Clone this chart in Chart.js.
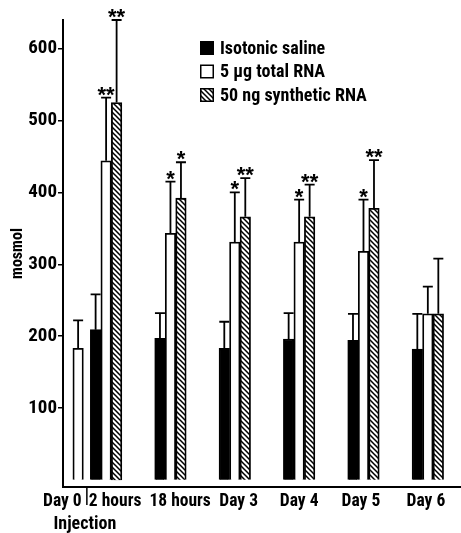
<!DOCTYPE html>
<html>
<head>
<meta charset="utf-8">
<script src="https://cdn.jsdelivr.net/npm/chart.js@4.4.1/dist/chart.umd.min.js"></script>
<style>
  html, body { margin: 0; padding: 0; background: #fff; }
  #wrap { width: 461px; height: 533px; }
</style>
</head>
<body>
<div id="wrap"><canvas id="osmoChart"></canvas></div>
<script>
/* osmolality after injection */

var timepoints = ['Day 0', '2 hours', '18 hours', 'Day 3', 'Day 4', 'Day 5', 'Day 6'];
var slots = [0.565, 1, 2, 3, 4, 5, 6];
var labelAt = [0.32, 1.14, 2.15, 3.06, 4, 4.96, 5.97];

var saline = [null, 209, 197, 183, 196, 194, 182];
var salineErr = [null, 49, 35, 37, 36, 37, 49];
var totalRna = [183, 444, 343, 331, 331, 318, 231];
var totalRnaErr = [39, 88, 72, 69, 59, 72, 38];
var synthRna = [null, 525, 392, 366, 366, 378, 231];
var synthRnaErr = [null, 115, 50, 54, 45, 67, 77];
var totalRnaStars = ['', '**', '*', '*', '*', '*', ''];
var synthRnaStars = ['', '**', '*', '**', '**', '**', ''];
var yTicks = [100, 200, 300, 400, 500, 600];

var COND = "'Roboto Condensed', 'Liberation Sans', sans-serif";

var ctx = document.getElementById('osmoChart');

function hatch() {
  var c = document.createElement('canvas');
  c.width = 5;
  c.height = 5;
  var g = c.getContext('2d');
  g.fillStyle = '#fff';
  g.fillRect(0, 0, 5, 5);
  g.strokeStyle = '#000';
  g.lineWidth = 1.5;
  g.beginPath();
  g.moveTo(-1, -1); g.lineTo(6, 6);
  g.moveTo(-1, 4); g.lineTo(1, 6);
  g.moveTo(4, -1); g.lineTo(6, 1);
  g.stroke();
  return ctx.getContext('2d').createPattern(c, 'repeat');
}
var stripes = hatch();

function points(vals, errs, stars) {
  var out = [];
  vals.forEach(function (v, i) {
    if (v === null) return;
    out.push({ x: slots[i], y: v, err: errs[i], star: stars ? stars[i] : '' });
  });
  return out;
}

// error bars, stars and the injection mark
var errorBars = {
  id: 'errorBars',
  afterDatasetsDraw: function (chart) {
    var c = chart.ctx;
    var y = chart.scales.y;
    c.save();
    c.strokeStyle = '#000';
    c.fillStyle = '#000';
    c.lineWidth = 1.8;
    c.font = "bold 22px 'Liberation Sans', sans-serif";
    c.textAlign = 'center';
    c.textBaseline = 'alphabetic';
    chart.data.datasets.forEach(function (ds, d) {
      chart.getDatasetMeta(d).data.forEach(function (bar, i) {
        var p = ds.data[i];
        var top = y.getPixelForValue(p.y + p.err);
        c.beginPath();
        c.moveTo(bar.x, bar.y);
        c.lineTo(bar.x, top);
        c.moveTo(bar.x - 5, top);
        c.lineTo(bar.x + 5, top);
        c.stroke();
        if (p.star) c.fillText(p.star, bar.x, top + 4);
      });
    });

    var day0 = chart.getDatasetMeta(1).data[0];
    var first = chart.getDatasetMeta(0).data[0];
    var mx = ((day0.x + day0.width / 2) + (first.x - first.width / 2)) / 2;
    var b = chart.chartArea.bottom;
    c.lineWidth = 1.5;
    c.beginPath();
    c.moveTo(mx, b + 1);
    c.lineTo(mx, b + 18);
    c.stroke();
    c.font = 'bold 18px ' + COND;
    c.textBaseline = 'middle';
    c.fillText('Injection', mx - 2, b + 37);
    c.restore();
  },
};

// legend in the upper right of the plot
var boxLegend = {
  id: 'boxLegend',
  afterDraw: function (chart) {
    var c = chart.ctx;
    c.save();
    c.font = 'bold 18px ' + COND;
    c.textAlign = 'left';
    c.textBaseline = 'middle';
    c.lineWidth = 1.5;
    c.strokeStyle = '#000';
    chart.data.datasets.forEach(function (ds, d) {
      var cy = 48 + d * 23.5;
      c.fillStyle = ds.backgroundColor;
      c.fillRect(200, cy - 7, 14, 14);
      c.strokeRect(200.75, cy - 6.25, 12.5, 12.5);
      c.fillStyle = '#000';
      c.fillText(ds.label, 220, cy + 1);
    });
    c.restore();
  },
};

var myChart = new Chart(ctx, {
  type: 'bar',
  data: {
    datasets: [
      {
        label: 'Isotonic saline',
        data: points(saline, salineErr),
        backgroundColor: '#000',
        borderColor: '#000',
        borderWidth: 1.5,
      },
      {
        label: '5 \u00b5g total RNA',
        data: points(totalRna, totalRnaErr, totalRnaStars),
        backgroundColor: '#fff',
        borderColor: '#000',
        borderWidth: 1.8,
      },
      {
        label: '50 ng synthetic RNA',
        data: points(synthRna, synthRnaErr, synthRnaStars),
        backgroundColor: stripes,
        borderColor: '#000',
        borderWidth: 1.8,
      },
    ],
  },
  options: {
    maintainAspectRatio: false,
    responsive: true,
    animation: false,
    barThickness: 10.5,
    layout: { padding: { top: 20, right: 1, left: 0, bottom: 0 } },
    plugins: {
      legend: { display: false },
      tooltip: { enabled: false },
    },
    scales: {
      x: {
        type: 'linear',
        offset: false,
        min: 0.33,
        max: 6.5,
        grid: { display: false, offset: false },
        border: { display: true, color: '#000', width: 2 },
        afterBuildTicks: function (s) {
          s.ticks = labelAt.map(function (v) { return { value: v }; });
        },
        afterFit: function (s) { s.height = 46; },
        ticks: {
          autoSkip: false,
          maxRotation: 0,
          padding: -4,
          color: '#000',
          font: { family: COND, size: 17.5, weight: 'bold' },
          callback: function (v, i) { return timepoints[i]; },
        },
      },
      y: {
        min: -10,
        max: 640,
        grid: {
          display: true,
          drawOnChartArea: false,
          drawTicks: true,
          tickLength: 5,
          lineWidth: 1.5,
          color: '#000',
        },
        border: { display: true, color: '#000', width: 2 },
        afterBuildTicks: function (s) {
          s.ticks = yTicks.map(function (v) { return { value: v }; });
        },
        afterFit: function (s) { s.width = 63; },
        ticks: {
          padding: 1,
          color: '#000',
          font: { family: COND, size: 19, weight: 'bold' },
        },
        title: {
          display: true,
          text: 'mosmol',
          color: '#000',
          font: { family: COND, size: 16, weight: 'bold' },
          padding: { top: 8, bottom: 0 },
        },
      },
    },
  },
  plugins: [errorBars, boxLegend],
});
</script>
</body>
</html>
